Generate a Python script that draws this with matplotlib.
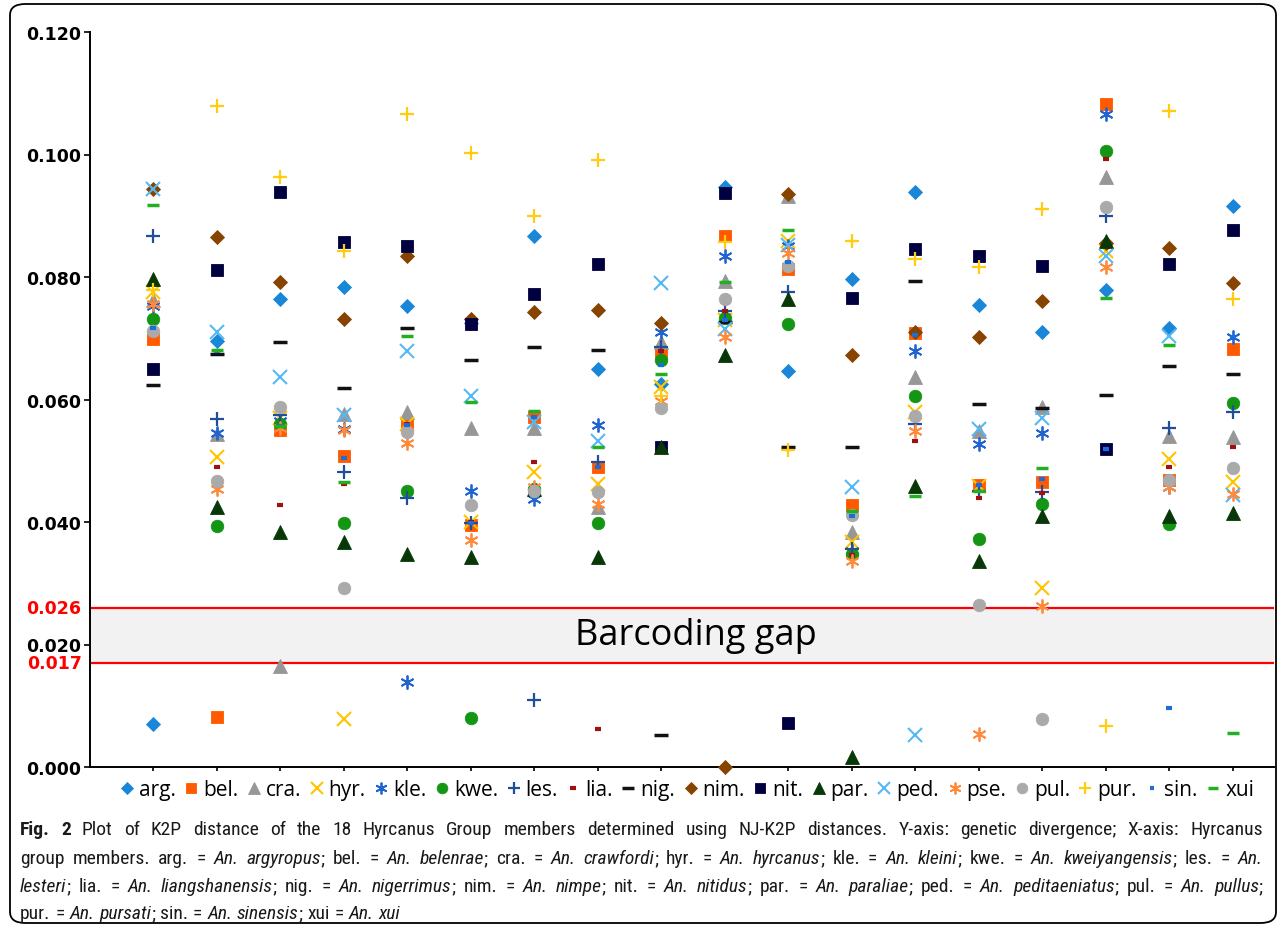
import matplotlib
matplotlib.use('Agg')
import matplotlib.pyplot as plt
from matplotlib.patches import FancyBboxPatch
from matplotlib import font_manager as fm

# ---------------- data ----------------
species = ['arg.', 'bel.', 'cra.', 'hyr.', 'kle.', 'kwe.', 'les.', 'lia.', 'nig.',
           'nim.', 'nit.', 'par.', 'ped.', 'pse.', 'pul.', 'pur.', 'sin.', 'xui']
columns = list(range(1, 19))

arg = [.0070, .0696, .0764, .0783, .0753, .0725, .0867, .0650, .0625, .0947, .0647, .0797, .0939, .0755, .0710, .0778, .0716, .0916]
bel = [.0699, .0082, .0550, .0508, .0562, .0395, .0571, .0490, .0674, .0867, .0813, .0427, .0709, .0460, .0466, .1082, .0468, .0682]
cra = [.0762, .0544, .0165, .0576, .0579, .0553, .0553, .0424, .0694, .0794, .0933, .0383, .0636, .0549, .0588, .0963, .0540, .0538]
hyr = [.0776, .0506, .0570, .0078, .0560, .0400, .0481, .0462, .0620, .0730, .0859, .0367, .0580, .0458, .0292, .0843, .0503, .0465]
kle = [.0752, .0545, .0565, .0552, .0139, .0450, .0438, .0558, .0710, .0835, .0851, .0353, .0680, .0527, .0546, .1066, .0457, .0702]
kwe = [.0731, .0394, .0560, .0398, .0451, .0080, .0454, .0398, .0665, .0733, .0723, .0348, .0605, .0372, .0429, .1005, .0397, .0595]
les = [.0867, .0568, .0575, .0481, .0440, .0398, .0109, .0498, .0686, .0745, .0775, .0356, .0560, .0451, .0449, .0899, .0553, .0580]
lia = [.0755, .0490, .0428, .0462, .0560, .0400, .0498, .0062, .0680, .0745, .0520, .0346, .0532, .0439, .0448, .0993, .0489, .0522]
nig = [.0624, .0674, .0694, .0618, .0717, .0665, .0686, .0681, .0053, .0727, .0522, .0522, .0794, .0593, .0586, .0607, .0655, .0642]
nim = [.0944, .0865, .0792, .0731, .0835, .0731, .0743, .0746, .0725, .0000, .0936, .0673, .0710, .0702, .0761, .0855, .0848, .0790]
nit = [.0650, .0812, .0939, .0857, .0851, .0723, .0772, .0821, .0522, .0937, .0072, .0766, .0846, .0834, .0818, .0520, .0821, .0876]
par = [.0797, .0424, .0384, .0368, .0348, .0343, .0454, .0343, .0522, .0672, .0764, .0016, .0458, .0337, .0410, .0859, .0410, .0414]
ped = [.0944, .0710, .0637, .0574, .0680, .0605, .0563, .0533, .0791, .0715, .0852, .0457, .0053, .0552, .0569, .0835, .0704, .0444]
pse = [.0756, .0454, .0553, .0550, .0529, .0371, .0457, .0429, .0598, .0702, .0840, .0337, .0549, .0054, .0263, .0816, .0457, .0446]
pul = [.0712, .0467, .0588, .0292, .0547, .0428, .0450, .0449, .0586, .0764, .0818, .0411, .0573, .0265, .0078, .0914, .0469, .0488]
pur = [.0779, .1080, .0963, .0843, .1066, .1002, .0900, .0991, .0606, .0857, .0518, .0859, .0829, .0816, .0911, .0067, .1071, .0764]
sin = [.0717, .0680, .0556, .0504, .0558, .0398, .0572, .0490, .0656, .0730, .0824, .0410, .0706, .0460, .0470, .0520, .0097, .0702]
xui = [.0918, .0681, .0556, .0466, .0703, .0596, .0581, .0522, .0642, .0792, .0876, .0418, .0443, .0450, .0488, .0766, .0689, .0055]

series = [arg, bel, cra, hyr, kle, kwe, les, lia, nig, nim, nit, par, ped, pse, pul, pur, sin, xui]

yticks = [0.0, 0.02, 0.04, 0.06, 0.08, 0.10, 0.12]
ytick_labels = ['0.000', '0.020', '0.040', '0.060', '0.080', '0.100', '0.120']
gap_low, gap_high = 0.017, 0.026
gap_labels = ['0.017', '0.026']

# caption: |...| italic, ^...^ bold
caption_lines = [
    "^Fig. 2^ Plot of K2P distance of the 18 Hyrcanus Group members determined using NJ-K2P distances. Y-axis: genetic divergence; X-axis: Hyrcanus",
    "group members. arg. = |An. argyropus|; bel. = |An. belenrae|; cra. = |An. crawfordi|; hyr. = |An. hyrcanus|; kle. = |An. kleini|; kwe. = |An. kweiyangensis|; les. = |An.|",
    "|lesteri|; lia. = |An. liangshanensis|; nig. = |An. nigerrimus|; nim. = |An. nimpe|; nit. = |An. nitidus|; par. = |An. paraliae|; ped. = |An. peditaeniatus|; pul. = |An. pullus|;",
    "pur. = |An. pursati|; sin. = |An. sinensis|; xui = |An. xui|",
]

# ---------------- styles ----------------
AST = (6, 2, 0)
styles = [
    dict(marker='D', color='#1a86d8', ms=7.0),            # arg
    dict(marker='s', color='#ff5a00', ms=8.5),            # bel
    dict(marker='^', color='#979797', ms=9.5),            # cra
    dict(marker='x', color='#ffc400', ms=9.5, mew=1.5),   # hyr
    dict(marker=AST, color='#1f64d0', ms=10, mew=1.3),    # kle
    dict(marker='o', color='#149614', ms=9.0),            # kwe
    dict(marker='+', color='#1f4f9a', ms=10.5, mew=1.6),  # les
    dict(marker='_', color='#a01010', ms=5, mew=3.0),     # lia
    dict(marker='_', color='#111111', ms=10, mew=2.5),    # nig
    dict(marker='D', color='#874400', ms=7.0),            # nim
    dict(marker='s', color='#000040', ms=8.5),            # nit
    dict(marker='^', color='#083808', ms=9.5),            # par
    dict(marker='x', color='#55b8f5', ms=9.5, mew=1.5),   # ped
    dict(marker=AST, color='#ff8a3a', ms=10, mew=1.3),    # pse
    dict(marker='o', color='#aaaaaa', ms=9.0),            # pul
    dict(marker='+', color='#ffcc11', ms=10.5, mew=1.6),  # pur
    dict(marker='_', color='#1a6ed8', ms=4, mew=3.0),     # sin
    dict(marker='_', color='#22b022', ms=9, mew=2.5),     # xui
]

W, H = 1285, 929
fig = plt.figure(figsize=(W / 100, H / 100), dpi=100)

# outer rounded frame
frame = FancyBboxPatch((10 / W, 5 / H), 1266 / W, 919 / H,
                       boxstyle='round,pad=0,rounding_size=0.012',
                       transform=fig.transFigure, fill=False, ec='black', lw=1.3)
fig.add_artist(frame)

ax_left, ax_right = 89.5, 1274
ax_top, ax_bottom = 33, 768
ax_w_px = ax_right - ax_left
ax = fig.add_axes([ax_left / W, (H - ax_bottom) / H, ax_w_px / W, (ax_bottom - ax_top) / H])
ax.set_xlim(0, ax_w_px / 63.5)
ax.set_ylim(0, 0.12)

# barcoding gap
ax.axhspan(gap_low, gap_high, color='#f2f2f2', zorder=0, lw=0)
ax.axhline(gap_high, color='#ff0000', lw=1.6, zorder=1)
ax.axhline(gap_low, color='#ff0000', lw=1.6, zorder=1)
ax.text(9.55, (gap_low + gap_high) / 2, 'Barcoding gap', ha='center', va='center',
        fontsize=26, family='Open Sans', color='black')

handles = []
for name, vals, st in zip(species, series, styles):
    st = dict(st)
    mew = st.pop('mew', 0.6)
    h, = ax.plot(columns, vals, linestyle='none', marker=st['marker'], color=st['color'],
                 markersize=st['ms'], markeredgewidth=mew, markeredgecolor=st['color'],
                 label=name, clip_on=False, zorder=3)
    handles.append(h)

for s in ['top', 'right']:
    ax.spines[s].set_visible(False)
for s in ['left', 'bottom']:
    ax.spines[s].set_linewidth(1.4)
ax.set_yticks(yticks)
ax.set_yticklabels(ytick_labels, fontsize=12.5, fontweight='bold', family='DejaVu Sans')
ax.set_xticks(columns)
ax.set_xticklabels([])
ax.tick_params(axis='y', direction='out', length=4, width=1.2, pad=2)
ax.tick_params(axis='x', direction='out', length=3, width=1.2)

for v, lab in zip([gap_low, gap_high], gap_labels):
    ax.text(-8.0 / ax_w_px, v, lab, transform=ax.get_yaxis_transform(), ha='right', va='center',
            fontsize=12.5, fontweight='bold', family='DejaVu Sans', color='#ff0000')

leg_x0, leg_x1, leg_yc = 119, 1254, 791
fig.legend(handles=handles, loc='center left',
           bbox_to_anchor=(leg_x0 / W, (H - leg_yc - 10) / H, (leg_x1 - leg_x0) / W, 20 / H),
           mode='expand', ncol=18, frameon=False, handlelength=0.75, handletextpad=0.2,
           columnspacing=0.3, borderpad=0, borderaxespad=0, markerscale=0.85,
           prop={'family': 'Open Sans', 'size': 15})

# ---------------- caption (justified) ----------------
names = {f.name for f in fm.fontManager.ttflist}
cap_family, cap_stretch = None, 'normal'
for nm in ['Liberation Sans Narrow', 'Roboto Condensed', 'Open Sans Condensed',
           'Noto Sans Condensed', 'Noto Sans Display Condensed']:
    if nm in names:
        cap_family = nm
        break
if cap_family is None:
    if any(f.name == 'DejaVu Sans' and 'condensed' in str(f.stretch) for f in fm.fontManager.ttflist):
        cap_family, cap_stretch = 'DejaVu Sans', 'condensed'
    elif 'Roboto' in names:
        cap_family = 'Roboto'
    else:
        cap_family = 'DejaVu Sans'


def parse(line):
    runs, style, buf = [], 'r', ''
    for ch in line:
        if ch in '|^':
            if buf:
                runs.append((buf, style))
                buf = ''
            new = 'i' if ch == '|' else 'b'
            style = 'r' if style == new else new
        else:
            buf += ch
    if buf:
        runs.append((buf, style))
    words = [[]]
    for txt, st in runs:
        parts = txt.split(' ')
        for k, p in enumerate(parts):
            if k > 0:
                words.append([])
            if p:
                words[-1].append((p, st))
    return [w for w in words if w]


parsed = [parse(l) for l in caption_lines]
renderer = fig.canvas.get_renderer()
cap_x0, cap_x1 = 20, 1263
cap_y = [830, 859, 887, 914]
target = cap_x1 - cap_x0


def make(txt, st, size):
    kw = dict(family=cap_family, fontstretch=cap_stretch, fontsize=size, color='#1a1a1a',
              ha='left', va='center')
    if st == 'i':
        kw['fontstyle'] = 'italic'
    if st == 'b':
        kw['fontweight'] = 'bold'
    return fig.text(0, 0, txt, **kw)


size = 14.0
while True:
    made = []
    ok = True
    layout = []
    for li, words in enumerate(parsed):
        wl = []
        for w in words:
            pieces = []
            for txt, st in w:
                t = make(txt, st, size)
                made.append(t)
                pieces.append((t, t.get_window_extent(renderer).width))
            wl.append(pieces)
        total = sum(sum(p[1] for p in pcs) for pcs in wl)
        min_gap = 0.17 * size * 100 / 72
        if li < len(parsed) - 1:
            gap = (target - total) / (len(wl) - 1)
            if gap < min_gap:
                ok = False
        else:
            gap = 0.25 * size * 100 / 72
        layout.append((wl, gap))
    if ok or size <= 8:
        break
    for t in made:
        t.remove()
    size -= 0.25

for (wl, gap), y in zip(layout, cap_y):
    x = cap_x0
    for pcs in wl:
        for t, w in pcs:
            t.set_position((x / W, (H - y) / H))
            x += w
        x += gap

fig.savefig('out.png', dpi=100)
